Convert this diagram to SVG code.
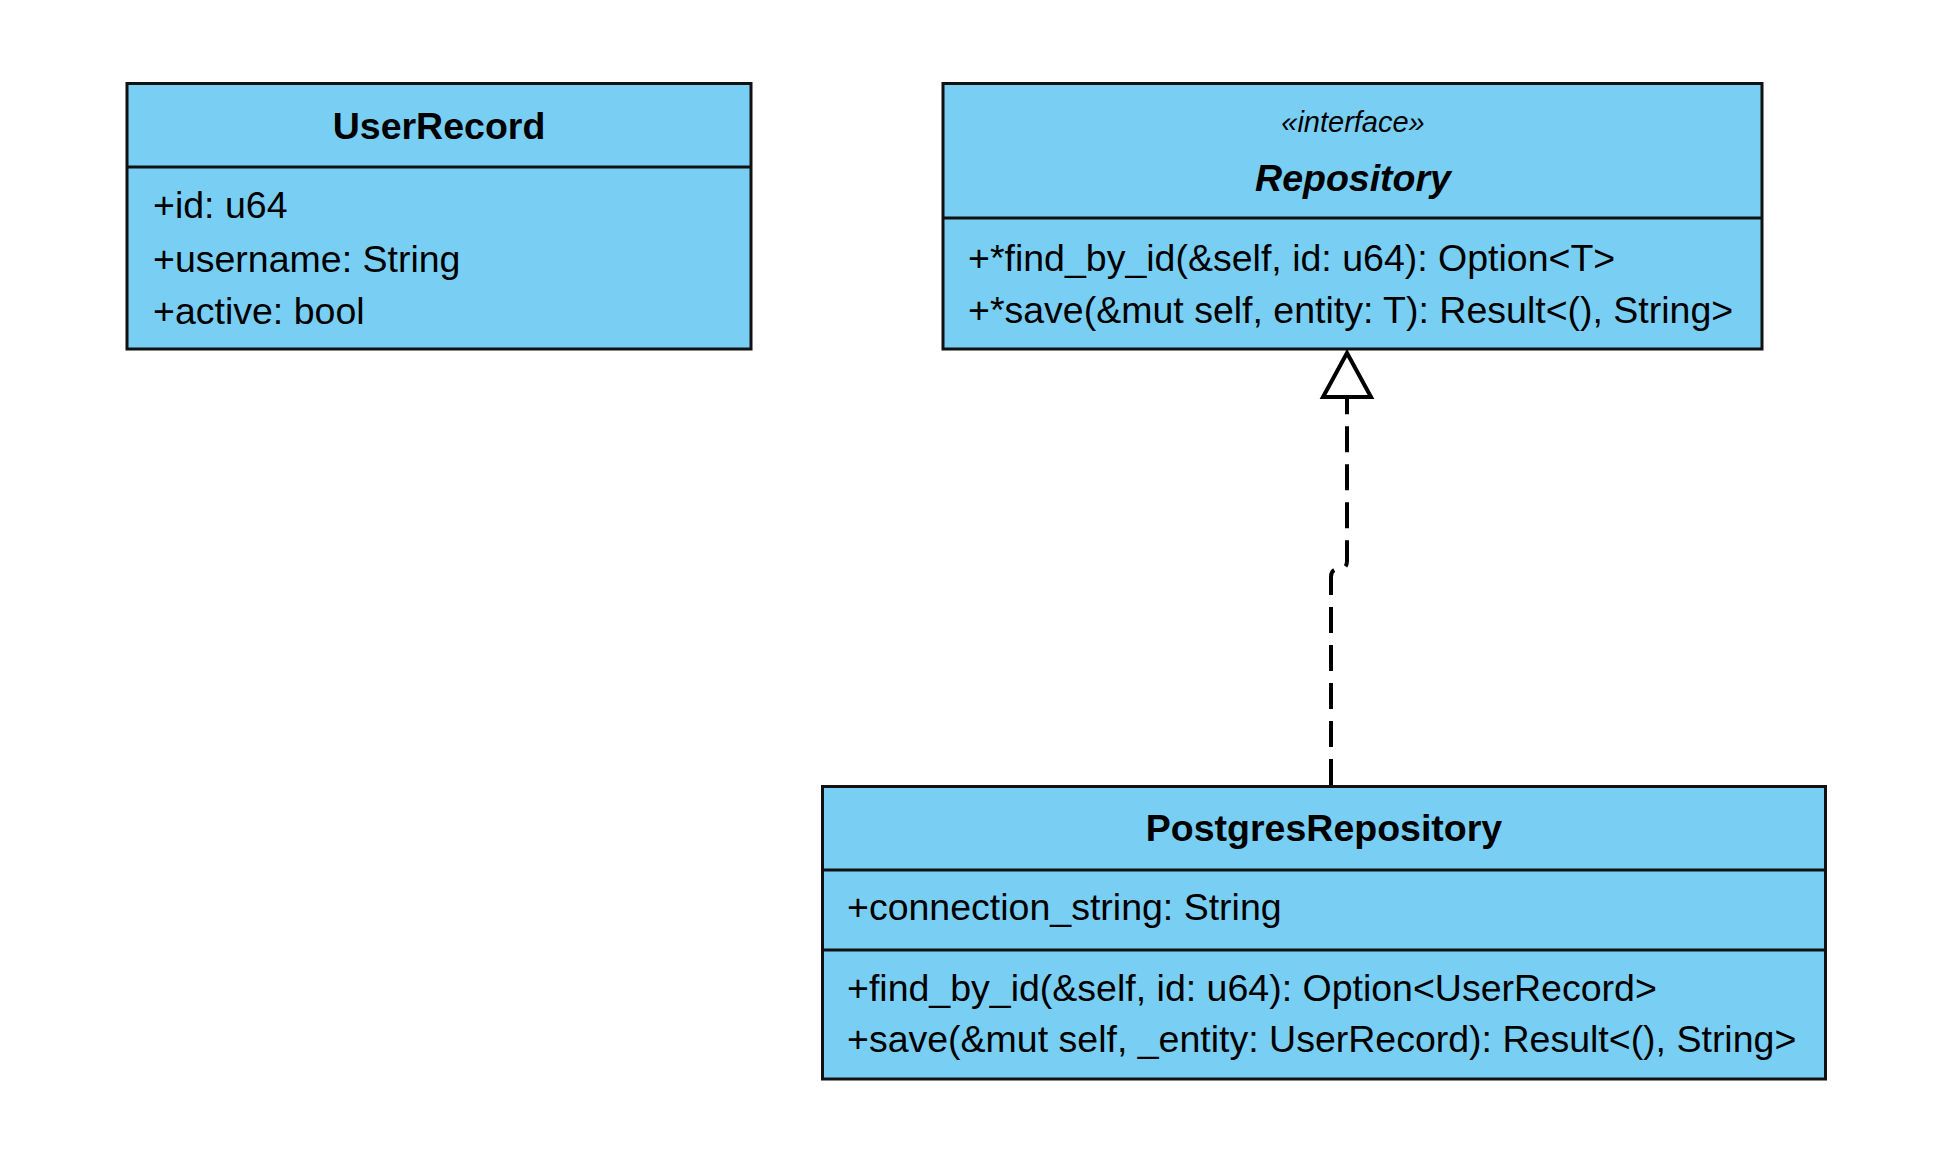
<svg xmlns="http://www.w3.org/2000/svg" width="1954" height="1150" viewBox="0 0 1954 1150">
<style>
.box{fill:#79CFF3;stroke:#111;stroke-width:3}
.div{stroke:#111;stroke-width:3}
.t{font-family:"Liberation Sans",Arial,Helvetica,sans-serif;font-size:37.5px;fill:#000}
.title{font-weight:bold;text-anchor:middle}
.ster{font-style:italic;font-size:29px;text-anchor:middle}
.abs{font-style:italic}
.edge{fill:none;stroke:#000;stroke-width:4;stroke-dasharray:26 12}
.head{fill:#fff;stroke:#000;stroke-width:4;stroke-linejoin:miter}
</style>
<rect width="1954" height="1150" fill="#fff"/>
<g id="UserRecord">
<rect class="box" x="127" y="83.5" width="624" height="265.5"/>
<line class="div" x1="127" y1="167" x2="751" y2="167"/>
<text class="t title" x="439" y="139">UserRecord</text>
<text class="t" x="153" y="218">+id: u64</text>
<text class="t" x="153" y="271.5">+username: String</text>
<text class="t" x="153" y="324">+active: bool</text>
</g>
<g id="Repository">
<rect class="box" x="943" y="83.5" width="819" height="265.5"/>
<line class="div" x1="943" y1="218" x2="1762" y2="218"/>
<text class="t ster" x="1353" y="131.5">«interface»</text>
<text class="t title abs" x="1353" y="190.5">Repository</text>
<text class="t" x="968" y="270.5">+*find_by_id(&amp;self, id: u64): Option&lt;T&gt;</text>
<text class="t" x="968" y="322.5">+*save(&amp;mut self, entity: T): Result&lt;(), String&gt;</text>
</g>
<g id="PostgresRepository">
<rect class="box" x="822.5" y="786.5" width="1003" height="292.5"/>
<line class="div" x1="822.5" y1="870" x2="1825.5" y2="870"/>
<line class="div" x1="822.5" y1="950" x2="1825.5" y2="950"/>
<text class="t title" x="1324" y="841">PostgresRepository</text>
<text class="t" x="847" y="919.5">+connection_string: String</text>
<text class="t" x="847" y="1000.5">+find_by_id(&amp;self, id: u64): Option&lt;UserRecord&gt;</text>
<text class="t" x="847" y="1051.5">+save(&amp;mut self, _entity: UserRecord): Result&lt;(), String&gt;</text>
</g>
<g id="connectors">
<path class="edge" d="M1331 785 L1331 577 Q1331 569 1339 569 Q1347 569 1347 561 L1347 398"/>
<polygon class="head" points="1347,353 1323,397 1371,397"/>
</g>
</svg>
